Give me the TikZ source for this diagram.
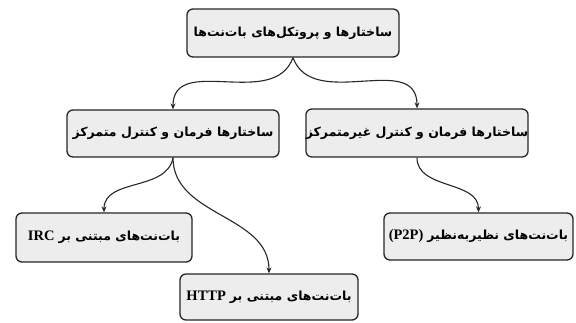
\documentclass[tikz,border=0pt]{standalone}
\usepackage{fontspec}
\setmainfont{Liberation Serif}
\newfontfamily\arabicfont[Script=Arabic]{DejaVu Sans}
\TeXXeTstate=1
\usetikzlibrary{arrows.meta}
\newcommand{\lat}[1]{\beginL{\rmfamily\bfseries\fontsize{14.5}{17}\selectfont #1}\endL}
\begin{document}
\begin{tikzpicture}[x=1pt,y=-1pt,
  box/.style={draw=black!85, line width=1.3pt, rounded corners=6pt, fill=black!7,
    inner sep=0pt, font=\arabicfont\bfseries\fontsize{12.5}{15}\selectfont},
  arr/.style={-{Stealth[length=6pt,width=5pt]}, line width=1.1pt, draw=black!85}]
\useasboundingbox (0,0) rectangle (576,322);
\node[box, minimum width=212pt, minimum height=48pt] (top) at (293,33)
  {\beginR ساختارها و پروتکل‌های بات‌نت‌ها\endR};
\node[box, minimum width=212pt, minimum height=47pt] (lm) at (173,133.5)
  {\beginR ساختارها فرمان و کنترل متمرکز\endR};
\node[box, minimum width=220pt, minimum height=48pt] (rm) at (417,133)
  {\beginR ساختارها فرمان و کنترل غیرمتمرکز\endR};
\node[box, minimum width=176pt, minimum height=49pt] (irc) at (104,237.5)
  {\beginR بات‌نت‌های مبتنی بر\hspace{4pt}\lat{IRC}\endR};
\node[box, minimum width=178pt, minimum height=46pt] (http) at (269,297)
  {\beginR بات‌نت‌های مبتنی بر\hspace{4pt}\lat{HTTP}\endR};
\node[box, minimum width=189pt, minimum height=47pt] (p2p) at (478.5,236.5)
  {\beginR بات‌نت‌های نظیربه‌نظیر\hspace{4pt}\lat{(P2P)}\endR};
\draw[arr] (top.south) to[out=-110,in=90,looseness=1.1] (lm.north);
\draw[arr] (top.south) to[out=-70,in=90,looseness=1.1] (rm.north);
\draw[arr] (lm.south) to[out=-100,in=90] (irc.north);
\draw[arr] (lm.south) to[out=-90,in=90] (http.north);
\draw[arr] (rm.south) to[out=-90,in=90] (p2p.north);
\end{tikzpicture}
\end{document}
